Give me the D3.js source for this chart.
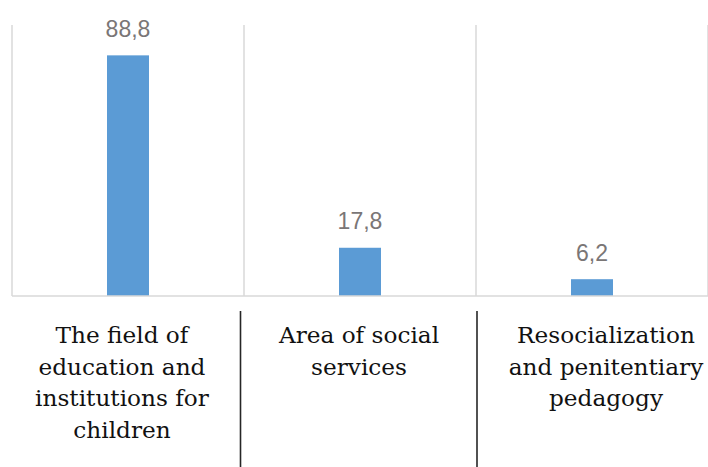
<!DOCTYPE html>
<html>
<head>
<meta charset="utf-8">
<script src="https://cdn.jsdelivr.net/npm/d3@7"></script>
<style>
  html, body { margin: 0; padding: 0; background: #fff; }
  svg { display: block; }
</style>
</head>
<body>
<svg id="chart" width="708" height="467"></svg>
<script>
// Share of respondents by field of professional activity
const categories = [
  "The field of education and institutions for children",
  "Area of social services",
  "Resocialization and penitentiary pedagogy"
];
const labelLines = [
  ["The field of", "education and", "institutions for", "children"],
  ["Area of social", "services"],
  ["Resocialization", "and penitentiary", "pedagogy"]
];
const values = [88.8, 17.8, 6.2];
const valueLabels = ["88,8", "17,8", "6,2"];

const svg = d3.select("#chart");

const plot = { left: 12, right: 708, top: 25, bottom: 296 };

const x = d3.scaleBand()
  .domain(categories)
  .range([plot.left, plot.right])
  .padding(0);

const y = d3.scaleLinear()
  .domain([0, 100])
  .range([plot.bottom, plot.top]);

const barFrac = 0.181;
const barW = x.bandwidth() * barFrac;

// vertical category gridlines
const gridX = categories.map(c => x(c)).concat([x(categories[categories.length - 1]) + x.bandwidth()]);
svg.append("g")
  .selectAll("line")
  .data(gridX)
  .join("line")
  .attr("x1", d => d).attr("x2", d => d)
  .attr("y1", plot.top).attr("y2", plot.bottom)
  .attr("stroke", "#d9d9d9")
  .attr("stroke-width", 1.5);

// bars
svg.append("g")
  .selectAll("rect")
  .data(values)
  .join("rect")
  .attr("x", (d, i) => x(categories[i]) + (x.bandwidth() - barW) / 2)
  .attr("y", d => y(d))
  .attr("width", barW)
  .attr("height", d => y(0) - y(d))
  .attr("fill", "#5b9bd5");

// baseline
svg.append("line")
  .attr("x1", plot.left).attr("x2", plot.right)
  .attr("y1", y(0)).attr("y2", y(0))
  .attr("stroke", "#d9d9d9")
  .attr("stroke-width", 1.5);

// value labels
svg.append("g")
  .selectAll("text")
  .data(values)
  .join("text")
  .attr("x", (d, i) => x(categories[i]) + x.bandwidth() / 2)
  .attr("y", d => y(d) - 18.5)
  .attr("text-anchor", "middle")
  .attr("font-family", "'Liberation Sans', Arial, sans-serif")
  .attr("font-size", 23)
  .attr("fill", "#7a7676")
  .text((d, i) => valueLabels[i]);

// category table below the plot
const labelX = d3.scaleOrdinal().domain(categories).range([122, 359, 606]);
const separators = [240.5, 477];

svg.append("g")
  .selectAll("line")
  .data(separators)
  .join("line")
  .attr("x1", d => d).attr("x2", d => d)
  .attr("y1", 311).attr("y2", 467)
  .attr("stroke", "#262626")
  .attr("stroke-width", 1.6);

const lineH = 31.7;
const labels = svg.append("g")
  .selectAll("text")
  .data(categories)
  .join("text")
  .attr("text-anchor", "middle")
  .attr("font-family", "'DejaVu Serif', serif")
  .attr("font-size", 23.2)
  .attr("fill", "#111");

labels.each(function(c, i) {
  d3.select(this).selectAll("tspan")
    .data(labelLines[i])
    .join("tspan")
    .attr("x", labelX(c))
    .attr("y", (t, j) => 343 + j * lineH)
    .text(t => t);
});
</script>
</body>
</html>
